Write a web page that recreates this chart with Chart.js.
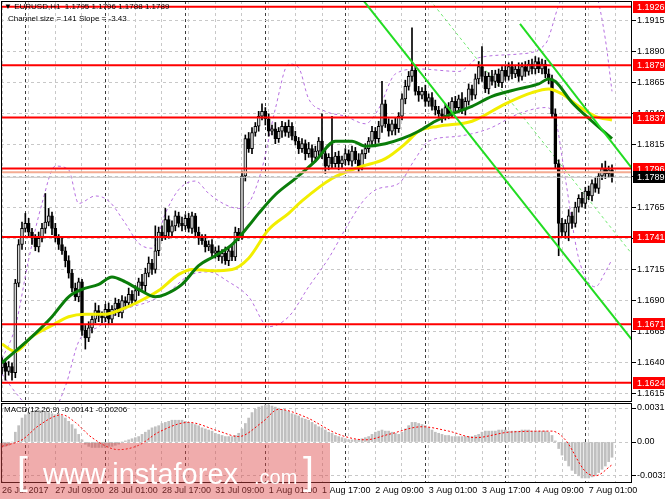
<!DOCTYPE html>
<html>
<head>
<meta charset="utf-8">
<script src="https://cdn.jsdelivr.net/npm/chart.js@4.4.0/dist/chart.umd.min.js"></script>
<style>
  html, body { margin: 0; padding: 0; background: #fff; }
  #wrap { position: relative; width: 665px; height: 499px; overflow: hidden; font-family: "Liberation Sans", Arial, sans-serif; }
  canvas { position: absolute; left: 0; }
  #main { top: 0; }
  #macd { top: 402px; }
  .lbl { position: absolute; font-size: 8px; line-height: 10px; color: #000; white-space: pre; }
  #wm { position: absolute; left: 0; top: 443px; width: 330px; height: 56px; background: rgba(222, 70, 70, 0.45); color: #fff; }
  #wm span { position: absolute; white-space: pre; line-height: 1; }
</style>
</head>
<body>
<div id="wrap">
  <canvas id="main" width="665" height="402"></canvas>
  <canvas id="macd" width="665" height="97"></canvas>
  <div class="lbl" style="left:4px;top:2px;">▼ EURUSD,H1  1.1795 1.1796 1.1788 1.1789</div>
  <div class="lbl" style="left:8px;top:14px;">Channel size = 141 Slope = -3.43</div>
  <div class="lbl" style="left:4px;top:405px;">MACD(12,26,9) -0.00141 -0.00206</div>
  <div id="wm">
    <span style="left:17px;top:8px;font-size:39px;">[</span>
    <span style="left:43px;top:17px;font-size:29px;">www.instaforex</span>
    <span style="left:254px;top:24px;font-size:20px;">.com</span>
    <span style="left:303px;top:8px;font-size:39px;">]</span>
  </div>
</div>
<script>
// H1 bars, 26 Jul 17:00 .. 7 Aug 08:00 (bar index on x)
const timeLabels = ['26 Jul 2017', '27 Jul 09:00', '28 Jul 01:00', '28 Jul 17:00', '31 Jul 09:00', '1 Aug 01:00',
  '1 Aug 17:00', '2 Aug 09:00', '3 Aug 01:00', '3 Aug 17:00', '4 Aug 09:00', '7 Aug 01:00'];
const labelBars = [0, 16, 32, 48, 64, 80, 96, 112, 128, 144, 160, 176];
const dayStartBars = [7, 31, 55, 79, 103, 127, 151, 175];

const firstOpen = 1.1636;
const closes = [
  1.1640, 1.1633, 1.1637, 1.1632, 1.1704, 1.1735, 1.1748, 1.1752,
  1.1745, 1.1740, 1.1733, 1.1740, 1.1748, 1.1753, 1.1758, 1.1748,
  1.1740, 1.1735, 1.1730, 1.1722, 1.1712, 1.1700, 1.1693, 1.1705,
  1.1666, 1.1660, 1.1668, 1.1675, 1.1682, 1.1678, 1.1676, 1.1683,
  1.1675, 1.1683, 1.1688, 1.1680, 1.1690, 1.1688, 1.1695, 1.1690,
  1.1698, 1.1705, 1.1702, 1.1712, 1.1720, 1.1715, 1.1730, 1.1745,
  1.1742, 1.1755, 1.1745, 1.1750, 1.1758, 1.1752, 1.1750, 1.1756,
  1.1748, 1.1758, 1.1745, 1.1740, 1.1738, 1.1733, 1.1735, 1.1728,
  1.1730, 1.1725, 1.1728, 1.1722, 1.1730, 1.1725, 1.1745, 1.1742,
  1.1790, 1.1820, 1.1812, 1.1825, 1.1830, 1.1838, 1.1842, 1.1836,
  1.1826, 1.1828, 1.1820, 1.1826, 1.1830, 1.1825, 1.1830, 1.1822,
  1.1818, 1.1812, 1.1816, 1.1808, 1.1812, 1.1805, 1.1810, 1.1818,
  1.1808, 1.1798, 1.1805, 1.1800, 1.1806, 1.1800, 1.1803, 1.1808,
  1.1802, 1.1810, 1.1803, 1.1798, 1.1808, 1.1812, 1.1818, 1.1826,
  1.1820, 1.1830, 1.1848, 1.1832, 1.1826, 1.1832, 1.1828, 1.1838,
  1.1852, 1.1862, 1.1870, 1.1875, 1.1858, 1.1855, 1.1858, 1.1850,
  1.1853, 1.1846, 1.1843, 1.1840, 1.1838, 1.1845, 1.1840, 1.1850,
  1.1845, 1.1852, 1.1843, 1.1850, 1.1860, 1.1855, 1.1868, 1.1878,
  1.1870, 1.1860, 1.1870, 1.1866, 1.1872, 1.1865, 1.1875, 1.1870,
  1.1878, 1.1872, 1.1876, 1.1870, 1.1878, 1.1874, 1.1880, 1.1876,
  1.1882, 1.1876, 1.1880, 1.1872, 1.1868, 1.1840, 1.1800, 1.1752,
  1.1745, 1.1752, 1.1758, 1.1752, 1.1765, 1.1772, 1.1768, 1.1778,
  1.1774, 1.1784, 1.1780, 1.1790, 1.1796, 1.1792, 1.1795, 1.1789
];
// wick lengths above / below the body, in pips
const wickUp = [
  4, 3, 4, 3, 3, 4, 5, 8,   4, 3, 3, 5, 4, 23, 6, 3,
  4, 3, 5, 3, 4, 3, 4, 3,   2, 4, 5, 3, 6, 4, 3, 4,
  5, 3, 4, 3, 4, 3, 5, 3,   4, 3, 6, 4, 5, 3, 20, 4,
  5, 9, 3, 4, 4, 3, 5, 3,   4, 3, 2, 4, 3, 5, 3, 4,
  3, 4, 3, 5, 3, 4, 4, 3,   4, 3, 5, 4, 3, 4, 6, 3,
  4, 3, 5, 3, 4, 3, 5, 3,   4, 3, 4, 3, 5, 3, 4, 3,
  22, 4, 3, 33, 3, 4, 3, 4, 3, 4, 3, 5, 3, 4, 3, 4,
  3, 4, 18, 3, 4, 3, 5, 3,  4, 5, 4, 34, 3, 4, 3, 5,
  3, 4, 5, 3, 4, 3, 4, 3,   4, 3, 5, 3, 4, 3, 4, 4,
  16, 4, 3, 5, 3, 4, 3, 4,  3, 4, 3, 5, 3, 4, 3, 4,
  4, 3, 4, 3, 4, 3, 4, 3,   4, 3, 5, 3, 4, 3, 5, 3,
  4, 3, 5, 3, 4, 6, 3, 4
];
const wickDn = [
  5, 7, 3, 6, 4, 3, 4, 3,   4, 5, 3, 4, 3, 4, 3, 5,
  3, 4, 3, 5, 4, 3, 3, 4,   4, 9, 3, 4, 3, 5, 4, 3,
  4, 3, 5, 3, 4, 3, 3, 4,   3, 4, 3, 5, 3, 4, 3, 4,
  4, 3, 5, 3, 4, 3, 4, 3,   3, 4, 3, 5, 3, 4, 3, 4,
  4, 3, 5, 3, 4, 3, 3, 4,   3, 4, 3, 4, 3, 4, 3, 5,
  4, 3, 4, 3, 5, 3, 4, 3,   3, 4, 3, 5, 3, 4, 3, 4,
  4, 6, 3, 4, 3, 5, 3, 4,   3, 4, 3, 5, 3, 4, 3, 4,
  4, 3, 5, 3, 4, 3, 5, 3,   3, 4, 3, 4, 3, 5, 3, 4,
  4, 3, 4, 3, 5, 3, 4, 3,   3, 4, 3, 4, 3, 4, 3, 4,
  4, 3, 4, 3, 5, 3, 4, 3,   3, 4, 3, 4, 3, 4, 3, 4,
  4, 3, 4, 3, 4, 3, 4, 26,  4, 5, 14, 4, 3, 4, 3, 4,
  3, 4, 3, 4, 3, 4, 3, 4
];

// moving averages and bands, read at sample bars
const greenMaBars = [0, 3, 9, 15, 20, 24, 29, 33, 37, 41, 46, 49, 54, 59, 64, 69, 74, 77, 82, 88,
  94, 100, 105, 109, 115, 120, 125, 130, 135, 141, 147, 155, 161, 164, 166, 171, 177, 183];
const greenMa = [1.1640, 1.1647, 1.1661, 1.1677, 1.1693, 1.1699, 1.1703, 1.1709, 1.1705, 1.1699,
  1.1693, 1.1695, 1.1703, 1.1718, 1.1726, 1.1735, 1.1750, 1.1760, 1.1775, 1.1788,
  1.1802, 1.1818, 1.1818, 1.1814, 1.1816, 1.1820, 1.1826, 1.1834, 1.1840, 1.1846,
  1.1854, 1.1860, 1.1864, 1.1868, 1.1866, 1.1849, 1.1834, 1.1820];
const yellowMaBars = [0, 4, 9, 15, 20, 25, 31, 35, 41, 47, 53, 57, 63, 69, 74, 80, 86, 90, 99, 107,
  115, 121, 125, 131, 141, 151, 159, 164, 168, 173, 178, 183];
const yellowMa = [1.1655, 1.1649, 1.1661, 1.1670, 1.1677, 1.1679, 1.1679, 1.1682, 1.1689, 1.1698,
  1.1711, 1.1715, 1.1714, 1.1715, 1.1724, 1.1747, 1.1760, 1.1770, 1.1788, 1.1797,
  1.1804, 1.1816, 1.1826, 1.1830, 1.1834, 1.1848, 1.1857, 1.1860, 1.1856, 1.1846,
  1.1838, 1.1835];
const bandUpBars = [0, 4, 8, 12, 16, 20, 23, 28, 32, 37, 41, 45, 49, 53, 58, 62, 67, 71, 74, 78,
  82, 86, 89, 92, 97, 103, 109, 113, 118, 125, 137, 143, 155, 163, 167, 172, 178, 181, 183];
const bandUp = [1.1643, 1.1669, 1.1723, 1.1768, 1.1798, 1.1795, 1.1768, 1.1774, 1.1770, 1.1752,
  1.1736, 1.1732, 1.1760, 1.1779, 1.1786, 1.1776, 1.1767, 1.1764, 1.1768, 1.1796,
  1.1844, 1.1880, 1.1877, 1.1852, 1.1842, 1.1838, 1.1832, 1.1844, 1.1872, 1.1876,
  1.1874, 1.1885, 1.1888, 1.1896, 1.1927, 1.1955, 1.1939, 1.1900, 1.1858];
const bandLowBars = [0, 5, 13, 19, 23, 29, 37, 44, 50, 56, 62, 68, 74, 80, 86, 92, 98, 104, 109, 113,
  119, 124, 128, 137, 146, 155, 163, 166, 169, 173, 178, 181, 183];
const bandLow = [1.1631, 1.1613, 1.1593, 1.1621, 1.1657, 1.1669, 1.1683, 1.1689, 1.1697, 1.1710,
  1.1713, 1.1705, 1.1693, 1.1669, 1.1677, 1.1701, 1.1724, 1.1752, 1.1772, 1.1780,
  1.1784, 1.1804, 1.1818, 1.1822, 1.1828, 1.1840, 1.1845, 1.1836, 1.1788, 1.1724,
  1.1701, 1.1713, 1.1723];

// regression channel (two ends each)
const chanLowBars = [108.3, 189], chanLow = [1.19314, 1.16584];
const chanUpBars = [155.4, 189], chanUp = [1.19123, 1.17961];
const chanMidBars = [128.4, 189], chanMid = [1.19314, 1.17273];

const levels = [1.1926, 1.1879, 1.1837, 1.1796, 1.1741, 1.1671, 1.1624];
const askPrice = 1.1793;
const lastPrice = 1.1789;
const priceTicks = [1.1615, 1.1640, 1.1665, 1.1690, 1.1715, 1.1740, 1.1765, 1.1790,
  1.1815, 1.1840, 1.1865, 1.1890, 1.1915];

// MACD main (histogram) per bar and signal at sample bars, in units of 0.0001
const macdHist = [
  -4, -4, -3, 0, 9, 15, 22, 25,     27, 28, 29, 29, 29, 28, 27, 26,
  25, 26, 24, 22, 19, 16, 12, 7,    2, -2, -4, -5, -5, -5, -5, -5,
  -4, -4, -3, -2, 0, 1, 2, 3,       4, 5, 7, 9, 11, 13, 14, 15,
  17, 18, 19, 20, 20, 20, 20, 19,   18, 17, 16, 15, 13, 12, 11, 10,
  8, 7, 6, 5, 5, 5, 6, 8,           12, 17, 22, 27, 30, 32, 33, 34,
  34, 33, 32, 31, 30, 29, 28, 26,   25, 24, 22, 21, 20, 18, 16, 14,
  13, 11, 9, 8, 6, 5, 4, 3,         2, 2, 2, 2, 3, 4, 5, 7,
  9, 10, 11, 10, 10, 9, 8, 7,       9, 12, 15, 18, 18, 17, 16, 15,
  13, 11, 9, 8, 7, 6, 6, 5,         5, 5, 5, 5, 5, 5, 6, 7,
  9, 10, 10, 10, 10, 11, 11, 11,    10, 10, 10, 10, 11, 11, 11, 10,
  10, 10, 10, 10, 9, 6, 1, -6,      -12, -17, -22, -26, -29, -31, -33, -33,
  -33, -32, -30, -28, -25, -22, -18, -14
];
const signalBars = [0, 6, 11, 18, 22, 27, 35, 41, 47, 56, 65, 71, 78, 83, 91, 101, 109, 116, 126, 134,
  142, 152, 165, 169, 175, 178, 183];
const signal = [-4, 2, 15, 25, 18, 4, -7, -3, 9, 18, 10, 5, 18, 30, 23, 7, 2, 7, 14, 10,
  4, 9, 10, 2, -27, -31, -21];
const macdTicks = [-0.0031, 0, 0.00312];
const macdTickLabels = ['-0.0031', '0.00', '0.00312'];

const PIP = 0.0001;
const X_MIN = -0.3, X_MAX = 189;
const opens = closes.map((c, i) => (i === 0 ? firstOpen : closes[i - 1]));
const pts = (xs, ys, k = 1) => xs.map((x, i) => ({ x: x, y: ys[i] * k }));

const gridTicks = [];
for (let b = 0; b <= 184; b += 8) gridTicks.push(b);
dayStartBars.forEach(b => gridTicks.push(b));
gridTicks.sort((a, b) => a - b);

const FONT = { family: 'Liberation Sans', size: 9 };
const vGridColor = (c) => (dayStartBars.includes(c.tick && c.tick.value) ? '#3c3c3c' : '#c8c8c8');

// keep the plot area fixed: no label overhang padding on the axes
const fixX = h => s => { s.height = h; s.paddingLeft = 0; s.paddingRight = 0; };
const fixY = s => { s.width = 33; s.paddingTop = 0; s.paddingBottom = 0; };

const frame = {
  id: 'frame',
  afterDraw(chart) {
    const { ctx, chartArea: a } = chart;
    ctx.save();
    ctx.strokeStyle = '#000';
    ctx.lineWidth = 1;
    ctx.strokeRect(a.left + 0.5, a.top + 0.5, a.right - a.left - 1, a.bottom - a.top);
    ctx.restore();
  }
};

const priceBoxes = {
  id: 'priceBoxes',
  afterDraw(chart) {
    const { ctx } = chart;
    const y = chart.scales.y;
    ctx.save();
    ctx.font = '9px "Liberation Sans"';
    ctx.textBaseline = 'middle';
    const box = (v, bg) => {
      const py = Math.round(y.getPixelForValue(v));
      ctx.fillStyle = bg;
      ctx.fillRect(y.left + 1, py - 6, chart.width - y.left - 1, 12);
      ctx.fillStyle = '#fff';
      ctx.fillText(v.toFixed(4), y.left + 5, py + 0.5);
    };
    levels.forEach(v => box(v, '#ff0000'));
    box(lastPrice, '#000');
    ctx.restore();
  }
};

const lineDs = (data, color, width, order, extra) => Object.assign({
  type: 'line', data: data, borderColor: color, borderWidth: width,
  pointRadius: 0, fill: false, order: order
}, extra || {});

const mainDatasets = [
  lineDs(pts(bandUpBars, bandUp), '#b66ee0', 1, 20, { borderDash: [3, 3], cubicInterpolationMode: 'monotone' }),
  lineDs(pts(bandLowBars, bandLow), '#b66ee0', 1, 20, { borderDash: [3, 3], cubicInterpolationMode: 'monotone' }),
  lineDs(pts(chanMidBars, chanMid), '#6fe86f', 1, 19, { borderDash: [3, 3] }),
  {
    type: 'bar', order: 15, grouped: false, barThickness: 1,
    data: closes.map((c, i) => ({ x: i, y: [Math.min(opens[i], c) - wickDn[i] * PIP, Math.max(opens[i], c) + wickUp[i] * PIP] })),
    backgroundColor: '#000'
  },
  {
    type: 'bar', order: 14, grouped: false, barThickness: 3, minBarLength: 1,
    data: closes.map((c, i) => ({ x: i, y: [opens[i], c] })),
    backgroundColor: (c) => (closes[c.dataIndex] >= opens[c.dataIndex] ? '#d6d6d6' : '#000'),
    borderColor: '#000', borderWidth: 1, borderSkipped: false
  },
  lineDs(pts(yellowMaBars, yellowMa), '#f2ee00', 3, 13, { cubicInterpolationMode: 'monotone' }),
  lineDs(pts(greenMaBars, greenMa), '#0a7d0a', 3, 12, { cubicInterpolationMode: 'monotone' }),
  lineDs([{ x: X_MIN, y: lastPrice }, { x: X_MAX, y: lastPrice }], '#c4c4c4', 1, 11),
  lineDs([{ x: X_MIN, y: askPrice }, { x: X_MAX, y: askPrice }], '#f4ab92', 2, 11)
];
levels.forEach(v => mainDatasets.push(lineDs([{ x: X_MIN, y: v }, { x: X_MAX, y: v }], '#ff0000', 2, 11)));
mainDatasets.push(lineDs(pts(chanLowBars, chanLow), '#22dc22', 2, 10));
mainDatasets.push(lineDs(pts(chanUpBars, chanUp), '#22dc22', 2, 10));

const common = {
  animation: false,
  responsive: false,
  events: [],
  plugins: { legend: { display: false }, tooltip: { enabled: false } }
};

new Chart(document.getElementById('main'), {
  type: 'bar',
  data: { datasets: mainDatasets },
  options: Object.assign({}, common, {
    layout: { padding: { left: 1, top: 1, right: 0, bottom: 1 } },
    scales: {
      x: {
        type: 'linear', min: X_MIN, max: X_MAX, offset: false,
        afterBuildTicks: s => { s.ticks = gridTicks.map(v => ({ value: v })); },
        ticks: { display: false },
        grid: { color: vGridColor, drawTicks: false, offset: false },
        border: { display: false, dash: [3, 3] },
        afterFit: fixX(0)
      },
      y: {
        position: 'right', min: 1.16093, max: 1.19306,
        afterBuildTicks: s => { s.ticks = priceTicks.map(v => ({ value: v })); },
        ticks: { callback: v => v.toFixed(4), font: FONT, color: '#000', padding: 1 },
        grid: { color: '#c8c8c8', tickColor: '#000', tickLength: 4 },
        border: { display: false, dash: [3, 3] },
        afterFit: fixY
      }
    }
  }),
  plugins: [frame, priceBoxes]
});

new Chart(document.getElementById('macd'), {
  type: 'bar',
  data: {
    datasets: [
      {
        type: 'bar', order: 2, grouped: false, barThickness: 2,
        data: pts(macdHist.map((v, i) => i), macdHist, PIP),
        backgroundColor: '#c0c0c0'
      },
      lineDs(pts(signalBars, signal, PIP), '#ff0000', 1, 1, { borderDash: [2, 2], cubicInterpolationMode: 'monotone' })
    ]
  },
  options: Object.assign({}, common, {
    layout: { padding: { left: 1, top: 1, right: 0, bottom: 0 } },
    scales: {
      x: {
        type: 'linear', min: X_MIN, max: X_MAX, offset: false,
        afterBuildTicks: s => { s.ticks = gridTicks.map(v => ({ value: v })); },
        ticks: {
          autoSkip: false, maxRotation: 0, minRotation: 0, align: 'start', padding: 3,
          font: FONT, color: '#000',
          callback: v => { const k = labelBars.indexOf(v); return k >= 0 ? timeLabels[k] : ''; }
        },
        grid: { color: vGridColor, drawTicks: false, offset: false },
        border: { display: false, dash: [3, 3] },
        afterFit: fixX(17)
      },
      y: {
        position: 'right', min: -0.00367, max: 0.00358,
        afterBuildTicks: s => { s.ticks = macdTicks.map(v => ({ value: v })); },
        ticks: { callback: v => macdTickLabels[macdTicks.indexOf(v)], font: FONT, color: '#000', padding: 1 },
        grid: { color: '#c8c8c8', tickColor: '#000', tickLength: 4 },
        border: { display: false, dash: [3, 3] },
        afterFit: fixY
      }
    }
  }),
  plugins: [frame]
});
</script>
</body>
</html>
